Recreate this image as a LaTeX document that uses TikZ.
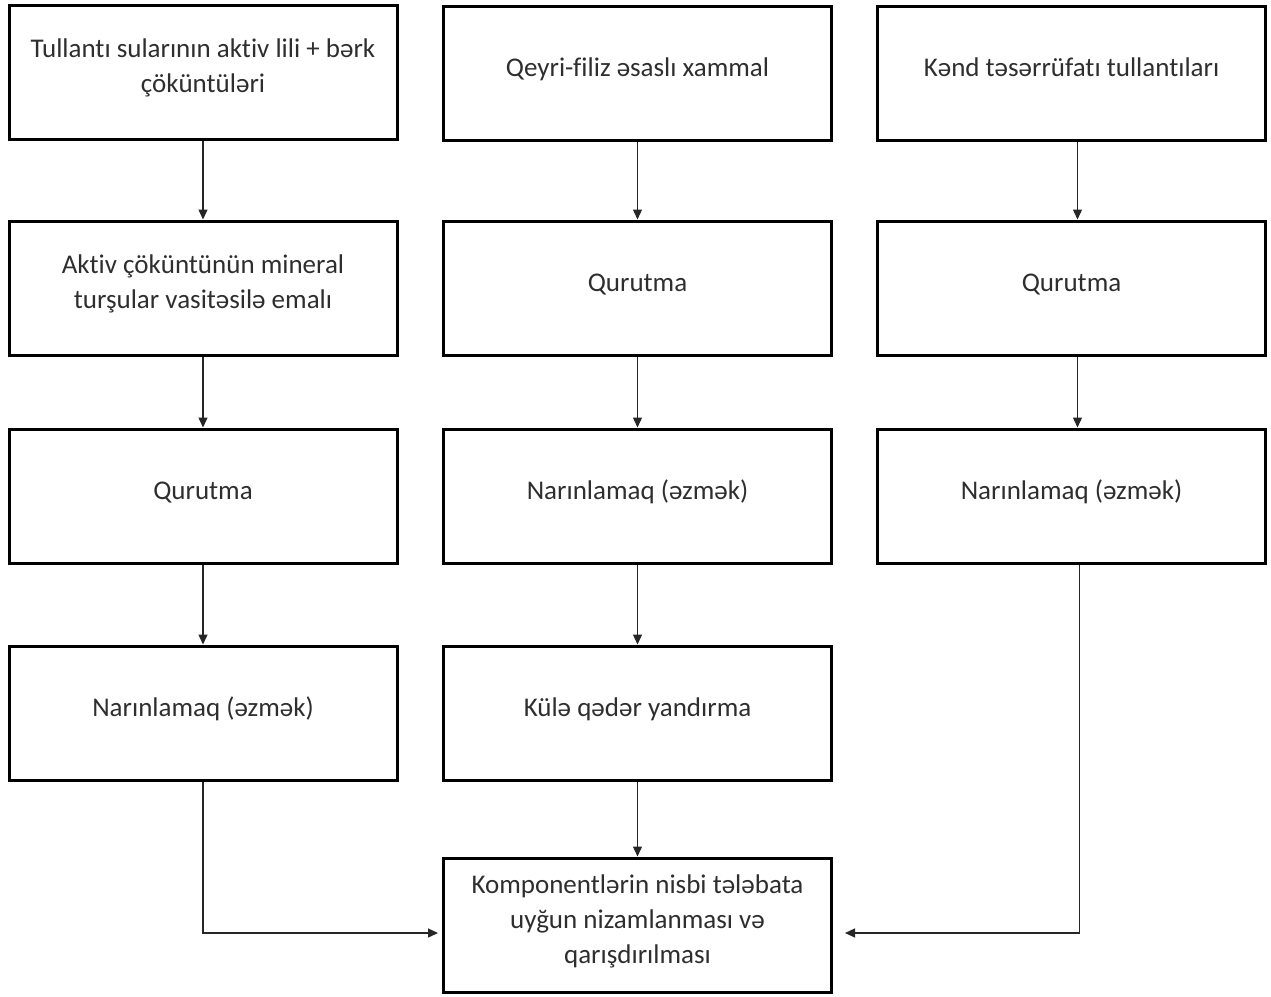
\documentclass[tikz,border=0pt]{standalone}
\usepackage{fontspec}
\setmainfont{Carlito}[Ligatures={NoCommon}]
\usetikzlibrary{arrows.meta,calc}
\definecolor{txt}{HTML}{2E2E2E}
\newcommand{\bx}[1]{\raisebox{4pt}[\height][\depth]{\begin{tabular}{@{}c@{}}#1\end{tabular}}}
\begin{document}
\begin{tikzpicture}[x=1pt,y=-1pt,
  box/.style={draw=black,line width=3pt,minimum width=388pt,minimum height=134pt,
    inner sep=0pt,text=txt,font=\fontsize{27}{35}\selectfont},
  conn/.style={line width=1.3pt,draw=black!85,-{Triangle[length=10pt,width=9pt]}}]
\useasboundingbox (0,0) rectangle (1271,996);
% column 1
\node[box] (a1) at (203,72) {\bx{Tullantı sularının aktiv lili + bərk\\çöküntüləri}};
\node[box] (a2) at (203,288) {\bx{Aktiv çöküntünün mineral\\turşular vasitəsilə emalı}};
\node[box] (a3) at (203,496) {\bx{Qurutma}};
\node[box] (a4) at (203,713) {\bx{Narınlamaq (əzmək)}};
% column 2
\node[box] (b1) at (637.5,73) {\bx{Qeyri-filiz əsaslı xammal}};
\node[box] (b2) at (637.5,288) {\bx{Qurutma}};
\node[box] (b3) at (637.5,496) {\bx{Narınlamaq (əzmək)}};
\node[box] (b4) at (637.5,713) {\bx{Külə qədər yandırma}};
% column 3
\node[box] (c1) at (1071.5,73) {\bx{Kənd təsərrüfatı tullantıları}};
\node[box] (c2) at (1071.5,288) {\bx{Qurutma}};
\node[box] (c3) at (1071.5,496) {\bx{Narınlamaq (əzmək)}};
% bottom
\node[box] (d) at (637.5,925) {\bx{Komponentlərin nisbi tələbata\\uyğun nizamlanması və\\qarışdırılması}};
% connectors
\draw[conn] (a1) -- (a2);
\draw[conn] (a2) -- (a3);
\draw[conn] (a3) -- (a4);
\draw[conn] (b1) -- (b2);
\draw[conn] (b2) -- (b3);
\draw[conn] (b3) -- (b4);
\draw[conn] (b4) -- (d);
\draw[conn] ($(c1.south)+(6,0)$) -- ($(c2.north)+(6,0)$);
\draw[conn] ($(c2.south)+(6,0)$) -- ($(c3.north)+(6,0)$);
\draw[conn,shorten >=4pt] (a4.south) |- ($(d.west)+(0,8)$);
\draw[conn,shorten >=12pt] ($(c3.south)+(8,0)$) |- ($(d.east)+(0,8)$);
\end{tikzpicture}
\end{document}
